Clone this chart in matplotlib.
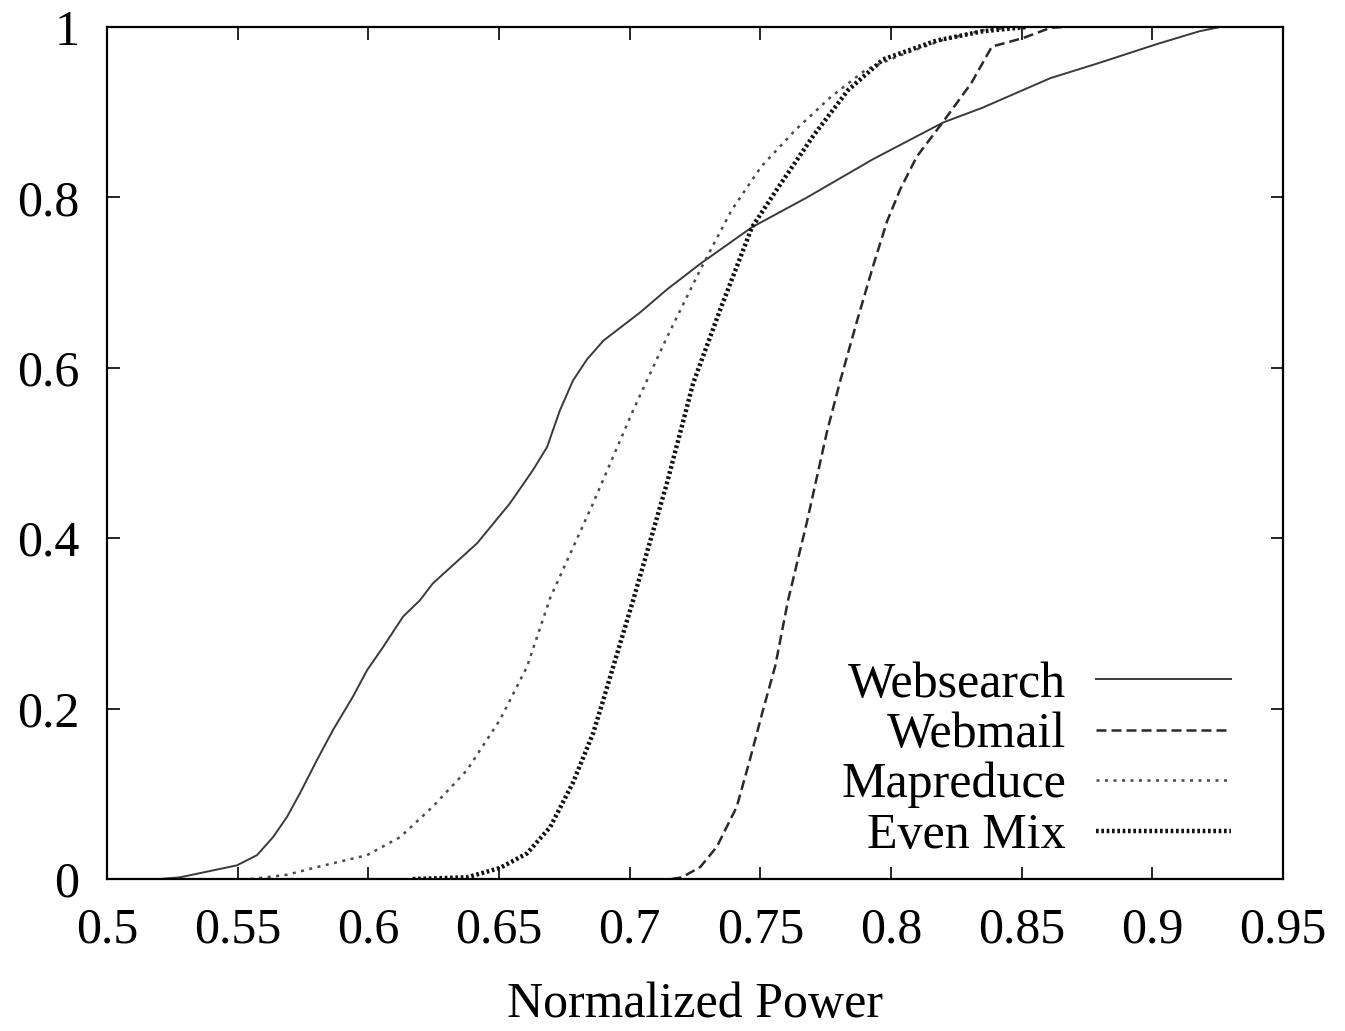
import numpy as np
import matplotlib
matplotlib.use('Agg')
import matplotlib.pyplot as plt

# CDF curves of normalized power
websearch_x = [0.52, 0.528, 0.5497, 0.5574, 0.5635, 0.5689, 0.5739, 0.5804, 0.5865, 0.5941,
               0.5995, 0.6056, 0.6133, 0.6197, 0.6247, 0.6416, 0.6542, 0.663, 0.6684, 0.6733,
               0.6783, 0.6837, 0.69, 0.704, 0.7143, 0.727, 0.7468, 0.7679, 0.7932, 0.82,
               0.8348, 0.861, 0.8788, 0.9018, 0.918, 0.926]
websearch_y = [0.0, 0.002, 0.016, 0.028, 0.049, 0.073, 0.101, 0.14, 0.175, 0.214,
               0.245, 0.272, 0.308, 0.327, 0.347, 0.394, 0.441, 0.48, 0.507, 0.55,
               0.585, 0.61, 0.632, 0.665, 0.692, 0.722, 0.765, 0.80, 0.845, 0.888,
               0.905, 0.94, 0.957, 0.98, 0.995, 1.0]

webmail_x = [0.716, 0.72, 0.727, 0.7334, 0.741, 0.746, 0.751, 0.7557, 0.7606, 0.7679,
             0.7755, 0.7806, 0.787, 0.7932, 0.7985, 0.8036, 0.8099, 0.82, 0.8307, 0.8386,
             0.8505, 0.861, 0.866]
webmail_y = [0.0, 0.002, 0.014, 0.038, 0.085, 0.14, 0.198, 0.25, 0.327, 0.42,
             0.525, 0.585, 0.655, 0.72, 0.772, 0.81, 0.848, 0.889, 0.934, 0.977,
             0.987, 0.999, 1.0]

mapreduce_x = [0.555, 0.561, 0.5689, 0.5804, 0.5995, 0.6121, 0.6247, 0.6378, 0.6504, 0.6607,
               0.6696, 0.686, 0.7013, 0.7143, 0.727, 0.739, 0.7503, 0.7637, 0.777, 0.7904,
               0.8038, 0.82, 0.835, 0.848]
mapreduce_y = [0.0, 0.002, 0.005, 0.014, 0.028, 0.049, 0.085, 0.128, 0.187, 0.249,
               0.33, 0.441, 0.55, 0.636, 0.715, 0.785, 0.836, 0.88, 0.918, 0.95,
               0.967, 0.985, 0.996, 1.0]

evenmix_x = [0.617, 0.6378, 0.6504, 0.6607, 0.6696, 0.6783, 0.686, 0.6894, 0.7013, 0.7143,
             0.7243, 0.7346, 0.7468, 0.7567, 0.7702, 0.7836, 0.797, 0.8173, 0.835, 0.852]
evenmix_y = [0.0, 0.002, 0.013, 0.03, 0.061, 0.113, 0.171, 0.205, 0.327, 0.465,
             0.582, 0.668, 0.765, 0.811, 0.872, 0.926, 0.962, 0.984, 0.995, 1.0]

x_ticks = [0.5, 0.55, 0.6, 0.65, 0.7, 0.75, 0.8, 0.85, 0.9, 0.95]
y_ticks = [0, 0.2, 0.4, 0.6, 0.8, 1]

plt.rcParams['font.family'] = ['Liberation Serif', 'DejaVu Serif']

fig = plt.figure(figsize=(13.45, 10.31), dpi=100)
ax = fig.add_axes([107 / 1345, 1 - 879 / 1031, 1176 / 1345, 852 / 1031])

ax.plot(websearch_x, websearch_y, color='#3a3a3a', lw=1.4, ls='-', label='Websearch')
ax.plot(webmail_x, webmail_y, color='#2a2a2a', lw=1.8, ls=(0, (4, 2)), label='Webmail')
ax.plot(mapreduce_x, mapreduce_y, color='#4a4a4a', lw=1.8, ls=(0, (1.2, 2.2)), label='Mapreduce')
ax.plot(evenmix_x, evenmix_y, color='#111111', lw=3.2, ls=(0, (0.6, 0.6)), label='Even Mix')

ax.set_xlim(0.5, 0.95)
ax.set_ylim(0, 1)
ax.set_xticks(x_ticks)
ax.set_xticklabels(['0.5', '0.55', '0.6', '0.65', '0.7', '0.75', '0.8', '0.85', '0.9', '0.95'])
ax.set_yticks(y_ticks)
ax.set_yticklabels(['0', '0.2', '0.4', '0.6', '0.8', '1'])
ax.tick_params(direction='in', length=9, width=1.2, labelsize=36, pad=20,
               top=True, right=True)
for s in ax.spines.values():
    s.set_linewidth(1.6)

ax.set_xlabel('Normalized Power', fontsize=36, labelpad=20)

ax.legend(loc='lower right', bbox_to_anchor=(0.973, 0.0), frameon=False, fontsize=36,
          markerfirst=False, handlelength=2.7, handletextpad=0.6, labelspacing=0.08,
          borderaxespad=0.0)

fig.savefig('out.png', dpi=100)
